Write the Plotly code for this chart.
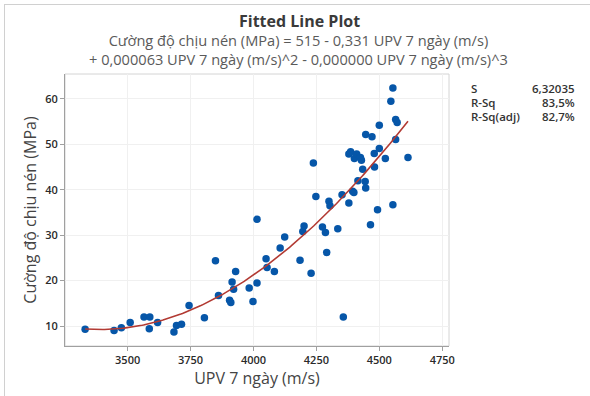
import numpy as np
import plotly.graph_objects as go

# Data
upv = [3331, 3446, 3475, 3510, 3565, 3588, 3586, 3619, 3684, 3694, 3714, 3744,
       3805, 3849, 3861, 3905, 3910, 3915, 3921, 3929, 3983, 3998, 4014, 4014,
       4050, 4054, 4083, 4106, 4124, 4185, 4196, 4201, 4229, 4238, 4248, 4274,
       4286, 4291, 4300, 4304, 4335, 4352, 4357, 4379, 4379, 4386, 4394, 4399,
       4401, 4410, 4415, 4425, 4429, 4434, 4444, 4446, 4446, 4465, 4471, 4480,
       4481, 4493, 4500, 4500, 4524, 4546, 4554, 4554, 4565, 4565, 4571, 4614]
strength = [9.3, 9.0, 9.6, 10.8, 12.0, 12.0, 9.4, 10.8, 8.7, 10.1, 10.4, 14.5,
            11.8, 24.4, 16.7, 15.7, 15.2, 19.7, 18.1, 22.0, 18.4, 15.4, 33.5, 19.5,
            24.8, 22.9, 22.0, 27.2, 29.6, 24.5, 30.8, 32.0, 21.6, 45.9, 38.5, 31.8,
            30.6, 26.2, 37.5, 36.5, 31.4, 38.9, 12.0, 37.1, 47.9, 48.4, 39.7, 39.4,
            46.9, 47.9, 42.0, 47.1, 46.5, 44.5, 41.8, 40.4, 52.2, 32.3, 51.7, 48.0,
            45.0, 35.6, 49.1, 54.2, 46.9, 59.5, 62.4, 36.7, 55.5, 51.1, 54.8, 47.1]

x_ticks = [3500, 3750, 4000, 4250, 4500, 4750]
y_ticks = [10, 20, 30, 40, 50, 60]

stat_names = ["S", "R-Sq", "R-Sq(adj)"]
stat_values = ["6,32035", "83,5%", "82,7%"]

title_main = "Fitted Line Plot"
title_eq1 = "Cường độ chịu nén (MPa) = 515 - 0,331 UPV 7 ngày (m/s)"
title_eq2 = "+ 0,000063 UPV 7 ngày (m/s)^2 - 0,000000 UPV 7 ngày (m/s)^3"

# Cubic regression fit (as in the chart)
coef = np.polyfit(upv, strength, 3)
fx = np.linspace(min(upv), max(upv), 200)
fy = np.polyval(coef, fx)

FONT = "Open Sans"
W, H = 590, 396
L, R, T, B = 65, 141, 74, 50
pw, ph = W - L - R, H - T - B

def px(x):
    return (x - L) / pw

def py(y):
    return (H - B - y) / ph

fig = go.Figure()
fig.add_trace(go.Scatter(x=upv, y=strength, mode="markers",
                         marker=dict(color="#0656A8", size=7.5, line=dict(width=0)),
                         hoverinfo="skip", showlegend=False))
fig.add_trace(go.Scatter(x=fx, y=fy, mode="lines",
                         line=dict(color="#B23A33", width=1.6),
                         hoverinfo="skip", showlegend=False))

annotations = [
    dict(text="<b>" + title_main + "</b>", x=px(299), y=py(21), xref="paper", yref="paper",
         showarrow=False, font=dict(family=FONT, size=16, color="#3a3a3a"), xanchor="center", yanchor="middle"),
    dict(text=title_eq1 + "<br>" + title_eq2, x=px(298), y=py(49), xref="paper", yref="paper",
         showarrow=False, align="center",
         font=dict(family=FONT, size=14.6, color="#5a5a5a"), xanchor="center", yanchor="middle"),
]
for i, (n, v) in enumerate(zip(stat_names, stat_values)):
    yy = py(88 + 14 * i)
    annotations.append(dict(text=n, x=px(469), y=yy, xref="paper", yref="paper", showarrow=False,
                            xanchor="left", yanchor="middle",
                            font=dict(family=FONT, size=11.5, color="#333333", weight=600)))
    annotations.append(dict(text=v, x=px(577), y=yy, xref="paper", yref="paper", showarrow=False,
                            xanchor="right", yanchor="middle",
                            font=dict(family=FONT, size=11.5, color="#333333", weight=600)))

shapes = [
    dict(type="rect", xref="paper", yref="paper", x0=0, y0=0, x1=1, y1=1,
         line=dict(color="#d4d4d4", width=1), layer="below"),
    dict(type="line", xref="paper", yref="paper", x0=px(4), y0=py(4.5), x1=px(W), y1=py(4.5),
         line=dict(color="#d0d0d0", width=1)),
    dict(type="line", xref="paper", yref="paper", x0=px(4.5), y0=py(4), x1=px(4.5), y1=py(H),
         line=dict(color="#d0d0d0", width=1)),
]

tickfont = dict(family=FONT, size=11, color="#2a2a2a", weight=600)

fig.update_layout(
    width=W, height=H,
    margin=dict(l=L, r=R, t=T, b=B, pad=0),
    paper_bgcolor="white", plot_bgcolor="white",
    annotations=annotations, shapes=shapes,
    font=dict(family=FONT, color="#333333"),
    xaxis=dict(range=[3251, 4777], tickvals=x_ticks, ticktext=[str(t) for t in x_ticks],
               showgrid=True, gridcolor="#f0f0f0", gridwidth=1, zeroline=False,
               showline=True, linecolor="#a0a0a0", linewidth=1,
               ticks="outside", ticklen=4, tickcolor="#a0a0a0",
               tickfont=tickfont,
               title=dict(text="UPV 7 ngày (m/s)", font=dict(family=FONT, size=16, color="#444444"), standoff=5)),
    yaxis=dict(range=[5.6, 65.5], tickvals=y_ticks, ticktext=[str(t) for t in y_ticks],
               showgrid=True, gridcolor="#f0f0f0", gridwidth=1, zeroline=False,
               showline=True, linecolor="#a0a0a0", linewidth=1,
               ticks="outside", ticklen=4, tickcolor="#a0a0a0",
               tickfont=tickfont,
               title=dict(text="Cường độ chịu nén (MPa)", font=dict(family=FONT, size=16, color="#444444"), standoff=4)),
)

fig.write_html("out.html", config={"displayModeBar": False},
               post_script="document.body.style.margin='0';")
